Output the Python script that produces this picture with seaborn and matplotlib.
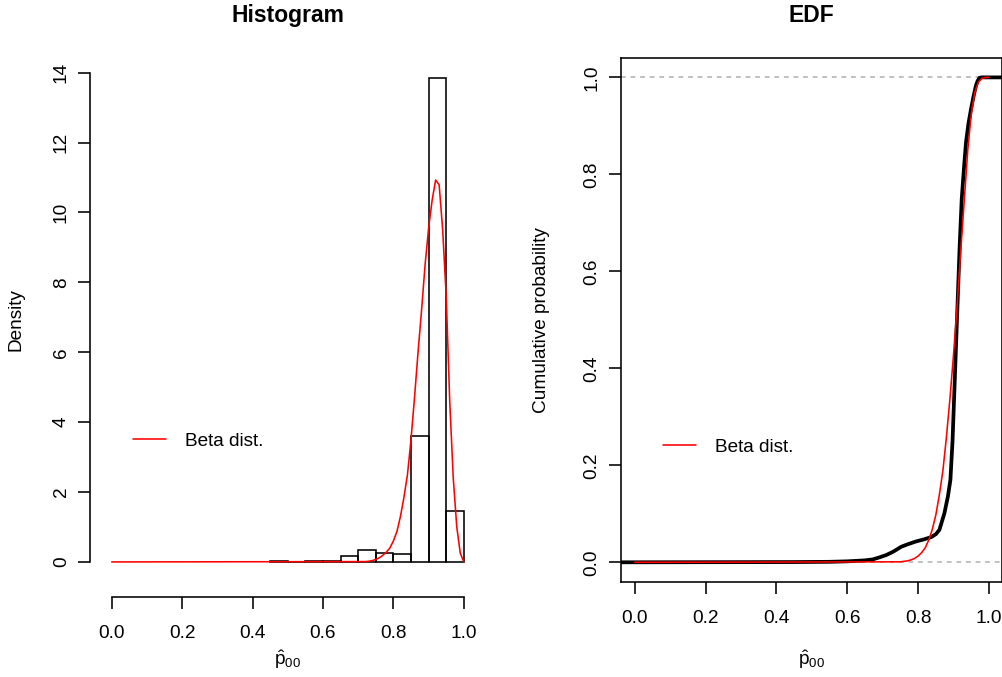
import numpy as np
import pandas as pd
import matplotlib
matplotlib.use("Agg")
import matplotlib.pyplot as plt
import seaborn as sns

# ---------------- data ----------------
hist_edges = [0.45, 0.50, 0.55, 0.60, 0.65, 0.70, 0.75, 0.80, 0.85, 0.90, 0.95, 1.00]
hist_density = [0.02, 0.0, 0.02, 0.04, 0.16, 0.34, 0.27, 0.24, 3.61, 13.84, 1.46]

beta_x = [0.0, 0.72, 0.73, 0.74, 0.75, 0.76, 0.77, 0.78, 0.79, 0.80, 0.81, 0.82,
          0.83, 0.84, 0.85, 0.86, 0.87, 0.88, 0.89, 0.90, 0.91, 0.92, 0.93,
          0.94, 0.95, 0.96, 0.97, 0.98, 0.99, 1.00]
beta_density = [0.0, 0.01, 0.02, 0.04, 0.07, 0.12, 0.19, 0.28, 0.40, 0.60, 0.87, 1.30,
                1.85, 2.50, 3.50, 4.70, 6.00, 7.20, 8.50, 9.55, 10.35, 10.93, 10.79,
                9.50, 7.60, 4.60, 2.40, 1.00, 0.25, 0.0]

cdf_x = [0.0, 0.75, 0.76, 0.77, 0.78, 0.79, 0.80, 0.81, 0.82, 0.83, 0.84, 0.85,
         0.86, 0.87, 0.88, 0.89, 0.90, 0.91, 0.92, 0.93, 0.94, 0.95, 0.96,
         0.97, 0.98, 0.99, 1.00]
beta_cdf = [0.0, 0.001, 0.002, 0.003, 0.005, 0.008, 0.013, 0.020, 0.030, 0.046, 0.068, 0.098,
            0.140, 0.190, 0.260, 0.340, 0.430, 0.530, 0.640, 0.745, 0.850, 0.925, 0.970,
            0.990, 0.998, 1.000, 1.000]

ecdf_x = [-0.04, 0.45, 0.55, 0.60, 0.65, 0.672, 0.69, 0.71, 0.73, 0.752, 0.77, 0.794,
          0.815, 0.837, 0.85, 0.86, 0.874, 0.884, 0.891, 0.897, 0.902, 0.907, 0.912,
          0.917, 0.923, 0.930, 0.935, 0.942, 0.949, 0.956, 0.963, 0.968, 0.973,
          0.978, 1.04]
ecdf_y = [0.0, 0.0005, 0.001, 0.002, 0.004, 0.006, 0.010, 0.015, 0.022, 0.032, 0.037, 0.043,
          0.047, 0.052, 0.058, 0.067, 0.101, 0.136, 0.170, 0.250, 0.350, 0.450, 0.550,
          0.650, 0.750, 0.820, 0.866, 0.905, 0.934, 0.960, 0.983, 0.993, 0.999,
          1.0, 1.0]

x_ticks = [0.0, 0.2, 0.4, 0.6, 0.8, 1.0]
hist_yticks = [0, 2, 4, 6, 8, 10, 12, 14]
cdf_yticks = [0.0, 0.2, 0.4, 0.6, 0.8, 1.0]
legend_label = "Beta dist."
xlabel = r"$\hat{\mathrm{p}}_{00}$"

# ---------------- style ----------------
sns.set_theme(style="white")
plt.rcParams["font.family"] = ["Liberation Sans", "DejaVu Sans"]
plt.rcParams["mathtext.fontset"] = "custom"
plt.rcParams["mathtext.rm"] = "Liberation Sans"
plt.rcParams["mathtext.it"] = "Liberation Sans:italic"
plt.rcParams["axes.edgecolor"] = "black"
plt.rcParams["axes.linewidth"] = 1.15
plt.rcParams["text.color"] = "black"
plt.rcParams["axes.labelcolor"] = "black"
plt.rcParams["axes.titlecolor"] = "black"
plt.rcParams["legend.labelcolor"] = "black"

FS = 13.7
LW = 1.15
W, H = 1003, 677

fig = plt.figure(figsize=(W / 100, H / 100), dpi=100)

def px_rect(x0, y0, x1, y1):
    return [x0 / W, 1 - y1 / H, (x1 - x0) / W, (y1 - y0) / H]

ax1 = fig.add_axes(px_rect(97.6, 58.6, 477.9, 581.3))
ax2 = fig.add_axes(px_rect(620.7, 58.0, 1002.0, 581.7))

# ---------------- Histogram panel ----------------
centers = [(a + b) / 2 for a, b in zip(hist_edges[:-1], hist_edges[1:])]
sns.histplot(x=centers, weights=hist_density, bins=hist_edges, stat="count",
             fill=False, color="black", linewidth=LW, ax=ax1)
sns.lineplot(x=beta_x, y=beta_density, color="red", linewidth=LW, ax=ax1,
             estimator=None, sort=False, label=legend_label)
ax1.set_xlim(-0.04, 1.04)
ax1.set_ylim(-0.554, 14.404)
for s in ["top", "right"]:
    ax1.spines[s].set_visible(False)
ax1.spines["bottom"].set_position(("outward", 11.3))
ax1.spines["left"].set_position(("outward", 5.5))
ax1.spines["bottom"].set_bounds(0, 1)
ax1.spines["left"].set_bounds(0, 14)
ax1.set_xticks(x_ticks)
ax1.set_xticklabels([f"{v:.1f}" for v in x_ticks])
ax1.set_yticks(hist_yticks)
ax1.set_yticklabels([str(v) for v in hist_yticks], rotation=90, va="center")
ax1.set_title("Histogram", fontsize=FS * 1.2, fontweight="bold", pad=26)
ax1.set_xlabel(xlabel, fontsize=FS, va="center")
ax1.xaxis.set_label_coords(0.5, (581.3 - 660) / (581.3 - 58.6))
ax1.set_ylabel("Density", fontsize=FS, va="center")
ax1.yaxis.set_label_coords((16 - 97.6) / (477.9 - 97.6), 0.5)
ax1.legend(loc="center left", bbox_to_anchor=((133 - 97.6) / 380.3, (581.3 - 441) / 522.7),
           frameon=False, fontsize=FS, handlelength=1.75, handletextpad=1.0,
           borderpad=0, borderaxespad=0)

# ---------------- EDF panel ----------------
ax2.axhline(0, color="#b3b3b3", linestyle=(0, (3, 3)), linewidth=LW, zorder=1)
ax2.axhline(1, color="#b3b3b3", linestyle=(0, (3, 3)), linewidth=LW, zorder=1)
sns.lineplot(x=ecdf_x, y=ecdf_y, color="black", linewidth=2.7, ax=ax2,
             estimator=None, sort=False)
sns.lineplot(x=cdf_x, y=beta_cdf, color="red", linewidth=LW, ax=ax2,
             estimator=None, sort=False, label=legend_label)
ax2.set_xlim(-0.0394, 1.0366)
ax2.set_ylim(-0.04, 1.04)
for s in ax2.spines.values():
    s.set_visible(True)
    s.set_linewidth(LW)
ax2.set_xticks(x_ticks)
ax2.set_xticklabels([f"{v:.1f}" for v in x_ticks])
ax2.set_yticks(cdf_yticks)
ax2.set_yticklabels([f"{v:.1f}" for v in cdf_yticks], rotation=90, va="center")
ax2.set_title("EDF", fontsize=FS * 1.2, fontweight="bold", pad=26)
ax2.set_xlabel(xlabel, fontsize=FS, va="center")
ax2.xaxis.set_label_coords(0.5, (581.7 - 660) / (581.7 - 58.0))
ax2.set_ylabel("Cumulative probability", fontsize=FS, va="center")
ax2.yaxis.set_label_coords((541 - 620.7) / 381.3, 0.5)
ax2.legend(loc="center left", bbox_to_anchor=((663 - 620.7) / 381.3, (581.7 - 447) / 523.7),
           frameon=False, fontsize=FS, handlelength=1.75, handletextpad=1.0,
           borderpad=0, borderaxespad=0)

for ax in (ax1, ax2):
    ax.tick_params(axis="both", which="major", direction="out", length=8.4, width=LW,
                   labelsize=FS, bottom=True, left=True, colors="black")
    ax.tick_params(axis="x", pad=12)
    ax.tick_params(axis="y", pad=6)
    ax.grid(False)

fig.savefig("out.png", dpi=100)
